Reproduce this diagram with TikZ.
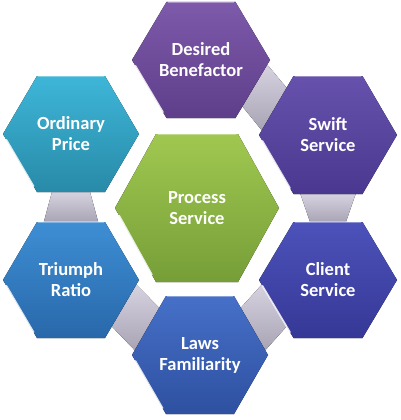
\documentclass[tikz,border=0pt]{standalone}
\usepackage{fontspec}
\setmainfont{Carlito}
\usetikzlibrary{calc}
\pgfdeclarelayer{links}
\pgfdeclarelayer{hexes}
\pgfsetlayers{links,hexes,main}

\definecolor{benefTop}{RGB}{126,90,170}
\definecolor{benefBot}{RGB}{94,62,138}
\definecolor{swiftTop}{RGB}{102,82,172}
\definecolor{swiftBot}{RGB}{74,56,144}
\definecolor{clientTop}{RGB}{76,82,186}
\definecolor{clientBot}{RGB}{54,56,150}
\definecolor{lawsTop}{RGB}{70,112,200}
\definecolor{lawsBot}{RGB}{46,80,160}
\definecolor{triumphTop}{RGB}{62,142,212}
\definecolor{triumphBot}{RGB}{40,104,170}
\definecolor{priceTop}{RGB}{62,182,216}
\definecolor{priceBot}{RGB}{40,138,168}
\definecolor{processTop}{RGB}{160,200,80}
\definecolor{processBot}{RGB}{118,158,56}
\definecolor{linkTop}{RGB}{214,210,224}
\definecolor{linkBot}{RGB}{168,164,180}

\newcommand{\hexagon}[5]{%
  \begin{pgfonlayer}{hexes}
  \fill[top color=#4,bottom color=#5]
    ($(#1)+(-#2,0)$) coordinate (#1-w) -- ($(#1)+(-#2/2,-#3)$) coordinate (#1-nw)
    -- ($(#1)+(#2/2,-#3)$) coordinate (#1-ne) -- ($(#1)+(#2,0)$) coordinate (#1-e)
    -- ($(#1)+(#2/2,#3)$) coordinate (#1-se) -- ($(#1)+(-#2/2,#3)$) coordinate (#1-sw) -- cycle;
  \draw[rim] ($(#1-nw)!0.02!(#1-ne)$) -- ($(#1-nw)!0.98!(#1-ne)$);
  \draw[glint] ($(#1-w)!0.1!(#1-sw)$) -- ($(#1-w)!0.9!(#1-sw)$);
  \end{pgfonlayer}}

\begin{document}
\begin{tikzpicture}[x=1pt,y=-1pt,
  hexlabel/.style={align=center,text=white,font=\bfseries\fontsize{18.5}{21}\selectfont},
  rim/.style={white,opacity=0.35,line width=1.6pt},
  glint/.style={white,opacity=0.85,line width=1.6pt,line cap=round},
  link/.style={top color=linkTop,bottom color=linkBot}]
\useasboundingbox (0,0) rectangle (400,420);

\node[hexlabel] (desired) at (201,60) {Desired\\Benefactor};
\node[hexlabel] (swift) at (328,135) {Swift\\Service};
\node[hexlabel] (client) at (328,280) {Client\\Service};
\node[hexlabel] (laws) at (200,355) {Laws\\Familiarity};
\node[hexlabel] (triumph) at (71,280) {Triumph\\Ratio};
\node[hexlabel] (price) at (71,134) {Ordinary\\Price};
\node[hexlabel] (process) at (197,208) {Process\\Service};

\hexagon{desired}{69}{58}{benefTop}{benefBot}
\hexagon{swift}{69}{59}{swiftTop}{swiftBot}
\hexagon{client}{69}{58}{clientTop}{clientBot}
\hexagon{laws}{68}{59}{lawsTop}{lawsBot}
\hexagon{triumph}{68}{58}{triumphTop}{triumphBot}
\hexagon{price}{68}{58}{priceTop}{priceBot}
\hexagon{process}{82}{74}{processTop}{processBot}

\begin{pgfonlayer}{links}
\fill[link] ($(desired-e)!0.08!(desired-se)$) -- ($(desired-e)!0.8!(desired-se)$)
  -- ($(swift-nw)!0.92!(swift-w)$) -- ($(swift-nw)!0.2!(swift-w)$) -- cycle;
\fill[link] ($(swift-sw)!0.1!(swift-se)$) -- ($(swift-sw)!0.9!(swift-se)$)
  -- ($(client-nw)!0.76!(client-ne)$) -- ($(client-nw)!0.24!(client-ne)$) -- cycle;
\fill[link] ($(client-w)!0.08!(client-sw)$) -- ($(client-w)!0.8!(client-sw)$)
  -- ($(laws-ne)!0.92!(laws-e)$) -- ($(laws-ne)!0.2!(laws-e)$) -- cycle;
\fill[link] ($(laws-w)!0.08!(laws-nw)$) -- ($(laws-w)!0.8!(laws-nw)$)
  -- ($(triumph-se)!0.92!(triumph-e)$) -- ($(triumph-se)!0.2!(triumph-e)$) -- cycle;
\fill[link] ($(price-sw)!0.22!(price-se)$) -- ($(price-sw)!0.78!(price-se)$)
  -- ($(triumph-nw)!0.9!(triumph-ne)$) -- ($(triumph-nw)!0.1!(triumph-ne)$) -- cycle;
\end{pgfonlayer}
\end{tikzpicture}
\end{document}
